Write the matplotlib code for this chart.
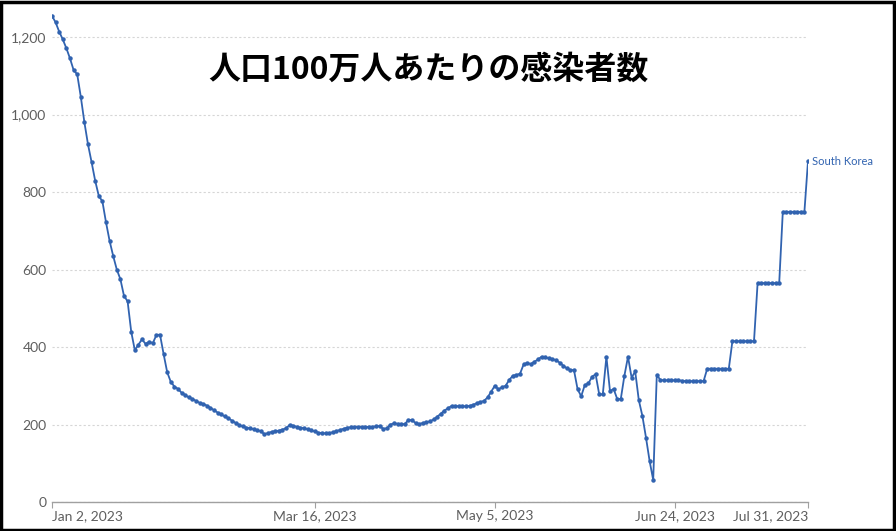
import matplotlib
matplotlib.use("Agg")
import matplotlib.pyplot as plt
import matplotlib.dates as mdates
from matplotlib.patches import Rectangle
import pandas as pd

start_date = "2023-01-02"
end_date = "2023-07-31"
series_name = "South Korea"
title = "人口100万人あたりの感染者数"

cases_per_million = [
    1255, 1238, 1214, 1194, 1171, 1145, 1115, 1104, 1046, 980,
    923, 877, 829, 790, 776, 722, 674, 635, 600, 575,
    532, 518, 440, 392, 406, 420, 408, 414, 410, 431,
    432, 382, 335, 310, 298, 292, 282, 276, 270, 266,
    261, 256, 253, 249, 243, 237, 231, 226, 221, 216,
    210, 204, 199, 195, 192, 190, 188, 185, 183, 175,
    178, 181, 183, 184, 187, 190, 199, 197, 194, 192,
    190, 188, 185, 182, 179, 178, 177, 178, 180, 183,
    186, 189, 192, 193, 194, 194, 194, 194, 194, 194,
    195, 196, 189, 190, 200, 203, 202, 201, 201, 212,
    211, 204, 201, 204, 206, 208, 213, 220, 228, 236,
    242, 248, 248, 247, 247, 247, 248, 251, 255, 258,
    261, 270, 285, 300, 291, 296, 300, 315, 326, 328,
    331, 355, 359, 356, 362, 368, 375, 373, 371, 369,
    366, 360, 352, 345, 341, 340, 291, 273, 302, 306,
    323, 330, 278, 278, 375, 286, 292, 266, 266, 326,
    375, 321, 337, 263, 222, 166, 106, 57, 328, 315,
    314, 314, 314, 314, 314, 313, 312, 312, 312, 312,
    312, 312, 344, 344, 344, 344, 344, 344, 344, 415,
    415, 415, 415, 415, 415, 415, 565, 565, 565, 565,
    565, 565, 565, 749, 749, 749, 749, 749, 749, 749,
    880,
]

tick_dates = ["2023-01-02", "2023-03-16", "2023-05-05", "2023-06-24", "2023-07-31"]
tick_labels = ["Jan 2, 2023", "Mar 16, 2023", "May 5, 2023", "Jun 24, 2023", "Jul 31, 2023"]
y_ticks = [0, 200, 400, 600, 800, 1000, 1200]
y_labels = ["0", "200", "400", "600", "800", "1,000", "1,200"]

dates = pd.date_range(start_date, end_date, freq="D")

W, H = 896, 531
fig = plt.figure(figsize=(W / 100, H / 100), dpi=100)
fig.patch.set_facecolor("white")
ax = fig.add_axes([52 / W, 1 - 502 / H, (808 - 52) / W, (502 - 10) / H])

line_color = "#3163b0"
ax.plot(dates, cases_per_million, color=line_color, lw=1.3,
        marker="o", ms=2.2, mec=line_color, mfc=line_color, zorder=3)

ax.set_xlim(pd.Timestamp(start_date), pd.Timestamp(end_date))
ax.set_ylim(0, 1270)

for s in ["top", "right", "left"]:
    ax.spines[s].set_visible(False)
ax.spines["bottom"].set_color("#a0a0a0")
ax.spines["bottom"].set_linewidth(1.0)

ax.set_yticks(y_ticks)
ax.set_yticklabels(y_labels)
ax.tick_params(axis="y", length=0, pad=4, labelsize=10, labelcolor="#5e5e5e")
ax.yaxis.grid(True, linestyle=(0, (2, 2)), color="#d6d6d6", lw=0.8)
ax.set_axisbelow(True)

tks = [pd.Timestamp(t) for t in tick_dates]
ax.set_xticks(tks)
ax.set_xticklabels(tick_labels)
ax.tick_params(axis="x", length=4, color="#a0a0a0", pad=2, labelsize=10, labelcolor="#5e5e5e")
labs = ax.get_xticklabels()
labs[0].set_ha("left")
labs[-1].set_ha("right")

for lab in ax.get_xticklabels() + ax.get_yticklabels():
    lab.set_fontfamily("Lato")

ax.text(dates[-1] + pd.Timedelta(days=1.2), cases_per_million[-1], series_name,
        color=line_color, fontsize=8, family="Lato", va="center", ha="left", clip_on=False)

fig.text(428 / W, 1 - 70 / H, title, fontsize=23, fontweight="bold",
         family=["Noto Sans CJK JP", "DejaVu Sans"], ha="center", va="center", color="black")

fig.patches.append(Rectangle((0.0015, 0.002), 0.996, 0.995, transform=fig.transFigure,
                             fill=False, edgecolor="black", lw=2.5))

fig.savefig("out.png", dpi=100, facecolor="white")
